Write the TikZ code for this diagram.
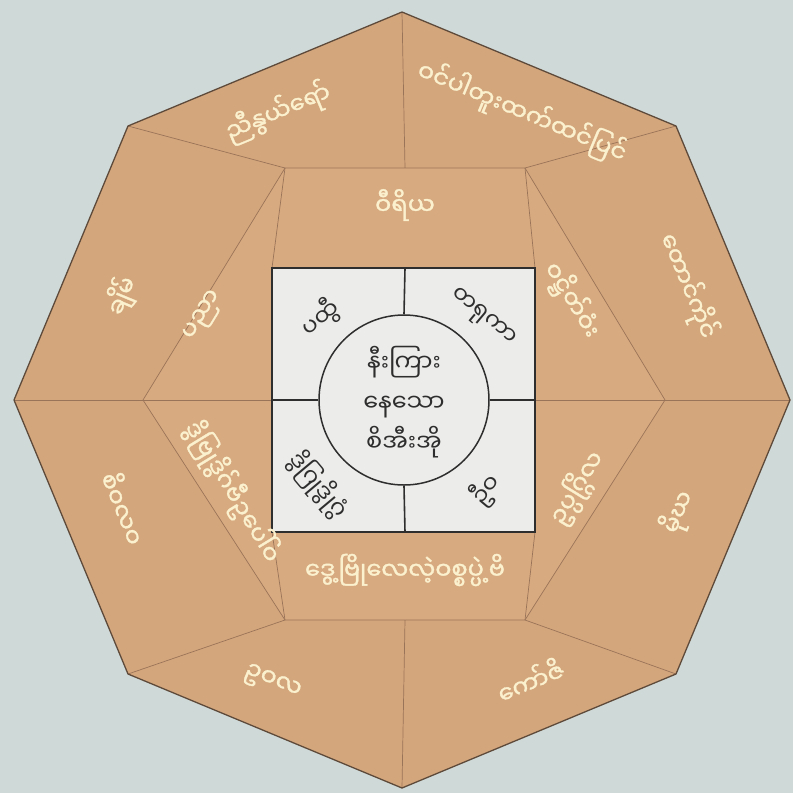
\documentclass[tikz,border=0pt]{standalone}
\usepackage{fontspec}
\newfontfamily\mmfont[Script=Myanmar]{Noto Sans Myanmar UI}
\newfontfamily\mmbold[Script=Myanmar, FakeBold=1.3]{Noto Sans Myanmar UI}
\definecolor{bgc}{HTML}{CFDAD8}
\definecolor{tanouter}{HTML}{D4A67C}
\definecolor{tanmid}{HTML}{D8AA80}
\definecolor{edgec}{HTML}{5E4A3A}
\definecolor{divc}{HTML}{9A7458}
\definecolor{sqfill}{HTML}{ECECEA}
\definecolor{inkc}{HTML}{2E2E2E}
\definecolor{cream}{HTML}{FBF1CF}
\tikzset{
  ringlbl/.style={font=\mmbold\fontsize{24}{28}\selectfont, text=cream, inner sep=1pt},
  innerlbl/.style={font=\mmfont\fontsize{23}{27}\selectfont, text=inkc, inner sep=1pt},
  divline/.style={draw=divc, line width=0.7pt},
  inkline/.style={draw=inkc, line width=1.6pt}
}
\begin{document}
\begin{tikzpicture}[x=1pt,y=-1pt]
\useasboundingbox (0,0) rectangle (793,793);
\fill[bgc] (0,0) rectangle (793,793);
% outer octagon vertices
\coordinate (o1) at (402,12);
\coordinate (o2) at (676,126);
\coordinate (o3) at (790,400);
\coordinate (o4) at (676,674);
\coordinate (o5) at (402,788);
\coordinate (o6) at (128,674);
\coordinate (o7) at (14,400);
\coordinate (o8) at (128,126);
% hexagon
\coordinate (h1) at (285,168);
\coordinate (h2) at (525,168);
\coordinate (h3) at (665,400);
\coordinate (h4) at (525,620);
\coordinate (h5) at (285,620);
\coordinate (h6) at (143,400);
\coordinate (ht) at (405,168);
\coordinate (hb) at (405,620);
% square
\coordinate (s1) at (272,268);
\coordinate (s2) at (535,268);
\coordinate (s3) at (535,532);
\coordinate (s4) at (272,532);
\coordinate (sl) at (272,400);
\coordinate (sr) at (535,400);
\coordinate (st) at (405,268);
\coordinate (sb) at (405,532);
\fill[tanouter] (o1)--(o2)--(o3)--(o4)--(o5)--(o6)--(o7)--(o8)--cycle;
\fill[tanmid] (h1)--(h2)--(h3)--(h4)--(h5)--(h6)--cycle;
% outer dividers
\draw[divline] (o1)--(ht);
\draw[divline] (o2)--(h2);
\draw[divline] (o3)--(h3);
\draw[divline] (o4)--(h4);
\draw[divline] (o5)--(hb);
\draw[divline] (o6)--(h5);
\draw[divline] (o7)--(h6);
\draw[divline] (o8)--(h1);
% hexagon outline
\draw[divline] (h1)--(h2)--(h3)--(h4)--(h5)--(h6)--cycle;
% middle dividers
\draw[divline] (h1)--(s1);
\draw[divline] (h2)--(s2);
\draw[divline] (h3)--(sr);
\draw[divline] (h4)--(s3);
\draw[divline] (h5)--(s4);
\draw[divline] (h6)--(sl);
% outer edge
\draw[draw=edgec, line width=1.3pt, line join=round] (o1)--(o2)--(o3)--(o4)--(o5)--(o6)--(o7)--(o8)--cycle;
% square
\draw[inkline, fill=sqfill] (s1) rectangle (s3);
\node[circle, draw=inkc, line width=1.5pt, minimum size=170pt, inner sep=0pt] (c) at (404,400) {};
\draw[inkline] (st)--(c.north);
\draw[inkline] (sb)--(c.south);
\draw[inkline] (sl)--(c.west);
\draw[inkline] (sr)--(c.east);
\node[innerlbl, align=center, font=\mmfont\fontsize{24}{40}\selectfont] (ctext) at (404,402) {နီးကြား\\နေသော\\စိအီးအို};
% inner quadrant labels
\node[innerlbl, rotate=40] (q1) at (320,318) {ပထွီ};
\node[innerlbl, rotate=-40] (q2) at (482,318) {တရုကာ};
\node[innerlbl, rotate=-50] (q3) at (318,485) {ဒွိဂြုဒွိုဂွံ};
\node[innerlbl, rotate=50] (q4) at (486,490) {ဦဝ};
% middle ring labels
\node[ringlbl] (m1) at (405,205) {ဝီရိယ};
\node[ringlbl, rotate=-58.5] (m2) at (572,300) {ဝဋ္ဌိတ်ဝံး};
\node[ringlbl, rotate=58.5] (m3) at (577,488) {ဥပ္ပဂ္ဂြိလ};
\node[ringlbl] (m4) at (405,570) {ဒွေ့ဗြိုလေလဲ့ဝစ္စပ္ပဲ့ဗိ};
\node[ringlbl, rotate=-58.5] (m5) at (232,492) {ဒွိဗြုဒွိဂ်ဗီဥပေါ်ဝ};
\node[ringlbl, rotate=58.5] (m6) at (204,316) {ပညာ};
% outer ring labels
\node[ringlbl, rotate=22.5] (r1) at (278,112) {ညီနွယ်ရော်};
\node[ringlbl, rotate=-22.5] (r2) at (522,112) {ဝင်ပါတူးထက်ထင်ပြင်};
\node[ringlbl, rotate=-67.5] (r3) at (688,286) {တောင်ကိုင်};
\node[ringlbl, rotate=67.5] (r4) at (678,512) {မိုဃ};
\node[ringlbl, rotate=22.5] (r5) at (530,680) {ကော်ဇိ};
\node[ringlbl, rotate=-22.5] (r6) at (272,683) {ဥဝလ};
\node[ringlbl, rotate=-67.5] (r7) at (124,508) {စိဝလဝ};
\node[ringlbl, rotate=67.5] (r8) at (122,296) {ချိမ်};
\end{tikzpicture}
\end{document}
